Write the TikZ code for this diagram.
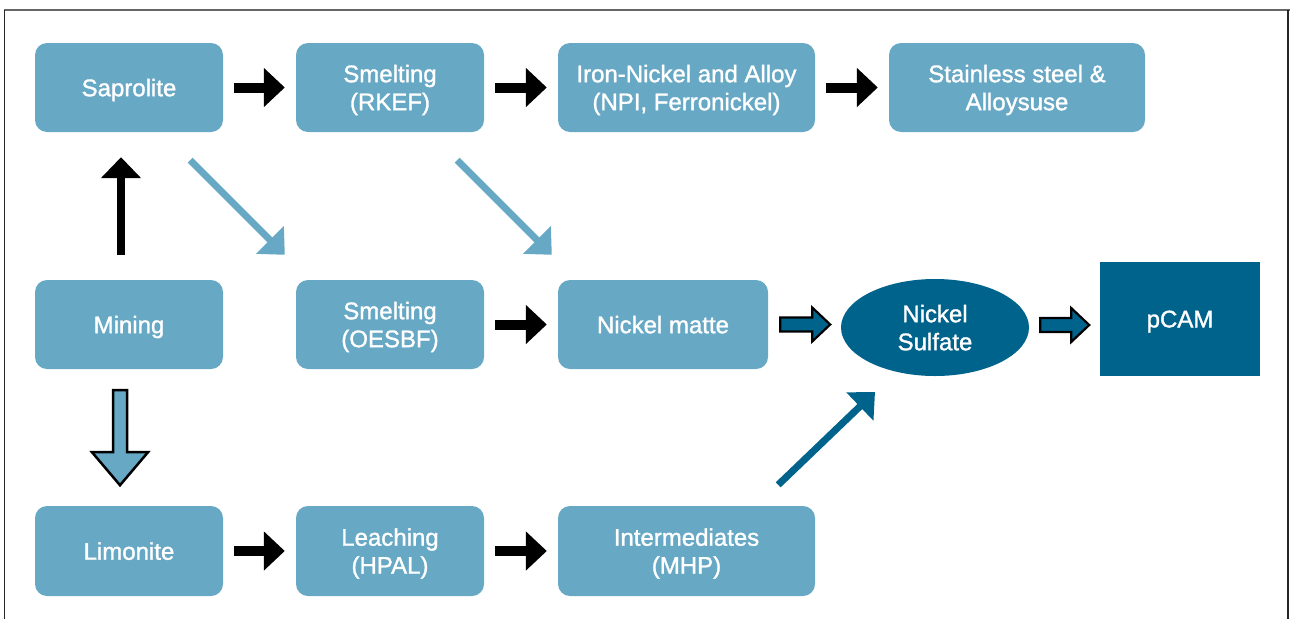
\documentclass[tikz,border=0pt]{standalone}
\usepackage{fontspec}
\setmainfont{Liberation Sans}[FakeBold=1.3]
\usetikzlibrary{arrows.meta,calc,shapes.geometric}
\definecolor{lightb}{RGB}{103,168,197}
\definecolor{darkb}{RGB}{0,99,140}
\begin{document}
\begin{tikzpicture}[x=1pt,y=-1pt,
  lbl/.style={text=white,align=center,inner sep=0pt,text depth=0pt,font=\fontsize{24}{28}\selectfont},
  box/.style={lbl,fill=lightb,draw=none,rounded corners=12pt,minimum width=188pt,minimum height=89pt},
  blk/.style={draw=black,line width=10pt,-{Triangle[width=38pt,length=21pt]}},
  blkthin/.style={draw=black,line width=7.5pt,-{Triangle[width=39pt,length=21pt]}},
  diaglight/.style={draw=lightb,line width=7pt,-{Triangle[width=38pt,length=21pt]}},
  diagdark/.style={draw=darkb,line width=7pt,-{Triangle[width=38pt,length=21pt]}},
  blockdark/.style={fill=darkb,draw=black,line width=2.2pt,line join=miter},
  blocklight/.style={fill=lightb,draw=black,line width=2.5pt,line join=miter}]
\useasboundingbox (0,0) rectangle (1290,619);
\fill[white] (0,0) rectangle (1290,619);
% frame
\draw[gray!80!black,line width=1.5pt] (4,10) -- (1290,10);
\draw[black!85,line width=1.5pt] (4.5,10) -- (4.5,619);
\draw[black!85,line width=1.5pt] (1288,10) -- (1288,619);
% nodes
\node[box] (sap) at (129,87.5) {Saprolite};
\node[box] (rkef) at (390,87.5) {Smelting\\(RKEF)};
\node[box,minimum width=257pt] (ina) at (686.5,87.5) {Iron-Nickel and Alloy\\(NPI, Ferronickel)};
\node[box,minimum width=256pt] (ss) at (1017,87.5) {Stainless steel \&\\Alloysuse};
\node[box] (mining) at (129,324.5) {Mining};
\node[box] (oesbf) at (390,324.5) {Smelting\\(OESBF)};
\node[box,minimum width=210pt] (matte) at (663,324.5) {Nickel matte};
\node[lbl,ellipse,fill=darkb,minimum width=188pt,minimum height=97pt] (ns) at (935,327.5) {Nickel\\Sulfate};
\node[lbl,rectangle,fill=darkb,minimum width=160pt,minimum height=114pt] (pcam) at (1180,319) {pCAM};
\node[box,minimum height=90pt] (lim) at (129,551) {Limonite};
\node[box,minimum height=90pt] (hpal) at (390,551) {Leaching\\(HPAL)};
\node[box,minimum width=257pt,minimum height=90pt] (inter) at (686.5,551) {Intermediates\\(MHP)};
% black arrows
\draw[blk] ($(sap.east)+(11,0)$) -- ($(rkef.west)+(-11,0)$);
\draw[blk] ($(rkef.east)+(11,0)$) -- ($(ina.west)+(-11,0)$);
\draw[blk] ($(ina.east)+(11,0)$) -- ($(ss.west)+(-11,0)$);
\draw[blk] ($(oesbf.east)+(11,0)$) -- ($(matte.west)+(-11,0)$);
\draw[blk] ($(lim.east)+(11,0)$) -- ($(hpal.west)+(-11,0)$);
\draw[blk] ($(hpal.east)+(11,0)$) -- ($(inter.west)+(-11,0)$);
\draw[blkthin] ($(mining.north)+(-8,-25)$) -- ($(sap.south)+(-8,25)$);
% diagonal arrows
\draw[diaglight] ($(sap.south east)+(-33,28)$) -- ($(oesbf.north west)+(-11,-25)$);
\draw[diaglight] ($(rkef.south east)+(-27,28)$) -- ($(matte.north west)+(-6,-25)$);
\draw[diagdark] ($(inter.north east)+(-37,-21)$) -- ($(ns.center)+(-60,64.5)$);
% hollow down arrow
\draw[blocklight] ($(mining.south)+(-16,21)$) -- ++(14,0) -- ++(0,62) -- ++(21,0) -- ++(-28,33)
  -- ++(-28,-33) -- ++(21,0) -- cycle;
% block arrows to/from ellipse
\draw[blockdark] ($(matte.east)+(12,-7)$) -- ++(32,0) -- ++(0,-10) -- ++(18,17) -- ++(-18,17)
  -- ++(0,-10) -- ++(-32,0) -- cycle;
\draw[blockdark] ($(ns.east)+(11,-9.5)$) -- ++(31,0) -- ++(0,-10) -- ++(18,17) -- ++(-18,17)
  -- ++(0,-10) -- ++(-31,0) -- cycle;
\end{tikzpicture}
\end{document}
